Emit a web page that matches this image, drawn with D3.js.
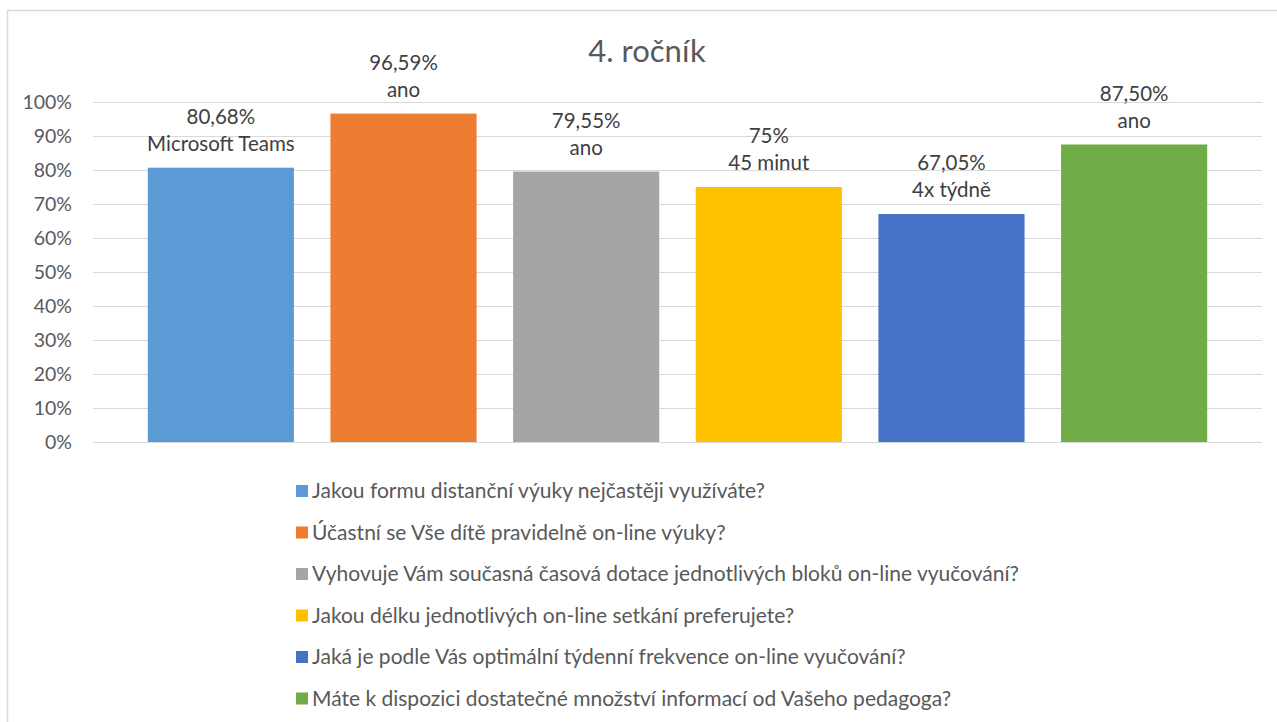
<!DOCTYPE html>
<html lang="cs">
<head>
  <meta charset="UTF-8">
  <title>4. ročník</title>
  <script src="https://cdn.jsdelivr.net/npm/d3@7"></script>
  <style>
    body { margin: 0; background: #fff; }
    text { font-family: Lato, "Open Sans", sans-serif; }
  </style>
</head>
<body>
<svg></svg>
<script>
  const questions = [
    "Jakou formu distanční výuky nejčastěji využíváte?",
    "Účastní se Vše dítě pravidelně on-line výuky?",
    "Vyhovuje Vám současná časová dotace jednotlivých bloků on-line vyučování?",
    "Jakou délku jednotlivých on-line setkání preferujete?",
    "Jaká je podle Vás optimální týdenní frekvence on-line vyučování?",
    "Máte k dispozici dostatečné množství informací od Vašeho pedagoga?"
  ]
  const values = [80.68, 96.59, 79.55, 75, 67.05, 87.5]
  const valueLabels = ["80,68%", "96,59%", "79,55%", "75%", "67,05%", "87,50%"]
  const answers = ["Microsoft Teams", "ano", "ano", "45 minut", "4x týdně", "ano"]
  const colors = ["#5B9BD5", "#ED7D31", "#A5A5A5", "#FFC000", "#4472C4", "#70AD47"]
  const yTicks = [0, 10, 20, 30, 40, 50, 60, 70, 80, 90, 100]

  const width = 1277, height = 722
  const margin = ({top: 102, right: 15, bottom: 280, left: 93})

  const svg = d3.select('svg')
      .attr('width', width)
      .attr('height', height)

  svg.append('rect')
      .attr('x', 7.5).attr('y', 10.5)
      .attr('width', width + 20).attr('height', height + 20)
      .attr('fill', '#fff')
      .attr('stroke', '#d9d9d9')
      .attr('stroke-width', 1.5)

  const x = d3.scaleBand()
      .domain(questions)
      .range([margin.left, width - margin.right])
      .paddingInner(0.2)
      .paddingOuter(0.3)

  const y = d3.scaleLinear()
      .domain([0, 100])
      .range([height - margin.bottom, margin.top])

  // grid + y labels
  svg.append('g')
      .attr('transform', `translate(${margin.left},0)`)
      .call(d3.axisLeft(y).tickValues(yTicks).tickFormat(d => d + '%')
          .tickSize(-(width - margin.left - margin.right)).tickPadding(21))
      .call(g => g.select('.domain').remove())
      .call(g => g.selectAll('.tick line').attr('stroke', '#d9d9d9'))
      .call(g => g.selectAll('.tick text')
          .attr('fill', '#595959')
          .attr('font-size', 19.5))

  svg.append('text')
      .attr('x', 647).attr('y', 62)
      .attr('text-anchor', 'middle')
      .attr('fill', '#595959')
      .attr('font-size', 31)
      .text('4. ročník')

  const bars = svg.append('g')
      .selectAll('g')
      .data(questions)
      .join('g')

  bars.append('rect')
      .attr('x', d => x(d))
      .attr('y', (d, i) => y(values[i]))
      .attr('width', x.bandwidth())
      .attr('height', (d, i) => y(0) - y(values[i]))
      .attr('fill', (d, i) => colors[i])

  bars.append('text')
      .attr('x', d => x(d) + x.bandwidth() / 2)
      .attr('y', (d, i) => y(values[i]) - 44)
      .attr('text-anchor', 'middle')
      .attr('fill', '#404040')
      .attr('font-size', 20.5)
      .text((d, i) => valueLabels[i])

  bars.append('text')
      .attr('x', d => x(d) + x.bandwidth() / 2)
      .attr('y', (d, i) => y(values[i]) - 17)
      .attr('text-anchor', 'middle')
      .attr('fill', '#404040')
      .attr('font-size', 20.5)
      .text((d, i) => answers[i])

  // legend
  const legend = svg.append('g')
      .selectAll('g')
      .data(questions)
      .join('g')
      .attr('transform', (d, i) => `translate(296,${491 + i * 41.5})`)

  legend.append('rect')
      .attr('x', 0).attr('y', -6)
      .attr('width', 12).attr('height', 12)
      .attr('fill', (d, i) => colors[i])

  legend.append('text')
      .attr('x', 16).attr('y', 7)
      .attr('fill', '#595959')
      .attr('font-size', 21)
      .text(d => d)
</script>
</body>
</html>
